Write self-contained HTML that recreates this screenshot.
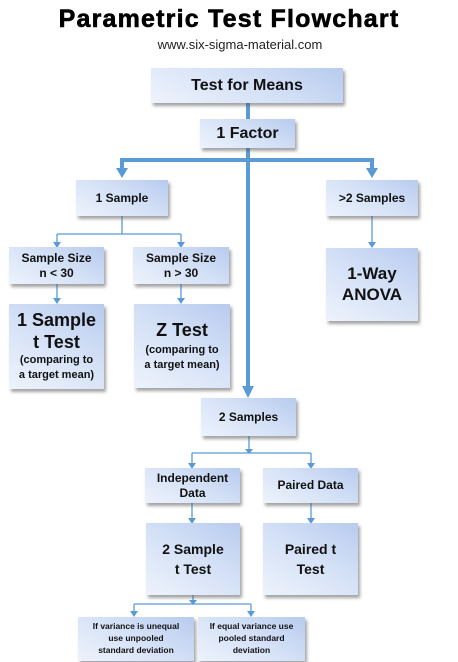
<!DOCTYPE html>
<html><head><meta charset="utf-8"><style>
body{margin:0;width:458px;height:662px;background:#fff;position:relative;overflow:hidden;font-family:"Liberation Sans",sans-serif}
.b{position:absolute;box-sizing:border-box;background:linear-gradient(30deg,#eef3fc 0%,#d3e0f6 55%,#b8cbef 100%);box-shadow:2px 3px 3px rgba(90,90,90,.55);display:flex;align-items:center;justify-content:center;text-align:center;font-weight:bold;color:#111;line-height:1.2}
svg{position:absolute;left:0;top:0}
</style></head><body>
<div style="position:absolute;left:0;width:458px;top:5px;text-align:center;font-weight:900;font-size:25px;letter-spacing:1.2px;-webkit-text-stroke:0.6px #000">Parametric Test Flowchart</div>
<div style="position:absolute;left:0;width:458px;top:37px;text-align:center;font-size:13px;color:#222;padding-left:22px;box-sizing:border-box">www.six-sigma-material.com</div>
<svg width="458" height="662">
<g stroke="#5b9bd5" fill="none">
<line x1="248" y1="103" x2="248" y2="388" stroke-width="4"/>
<line x1="122" y1="160" x2="372" y2="160" stroke-width="4"/>
<line x1="122" y1="158" x2="122" y2="170" stroke-width="4"/>
<line x1="372" y1="158" x2="372" y2="170" stroke-width="4"/>
<g stroke-width="1.3">
<line x1="122" y1="216" x2="122" y2="234"/><line x1="57" y1="234" x2="181" y2="234"/>
<line x1="57" y1="234" x2="57" y2="243"/><line x1="181" y1="234" x2="181" y2="243"/>
<line x1="57" y1="284" x2="57" y2="300"/><line x1="181" y1="284" x2="181" y2="300"/>
<line x1="372" y1="216" x2="372" y2="244"/>
<line x1="249" y1="436" x2="249" y2="450"/>
<line x1="192" y1="453" x2="311" y2="453"/>
<line x1="192" y1="453" x2="192" y2="464"/><line x1="311" y1="453" x2="311" y2="464"/>
<line x1="192" y1="503" x2="192" y2="519"/><line x1="311" y1="503" x2="311" y2="519"/>
<line x1="193" y1="595" x2="193" y2="603"/>
<line x1="134" y1="604" x2="251" y2="604"/>
<line x1="134" y1="604" x2="134" y2="612"/><line x1="251" y1="604" x2="251" y2="612"/>
</g></g>
<g fill="#5b9bd5">
<path d="M116 168h12l-6 10z"/><path d="M366 168h12l-6 10z"/><path d="M242 386h12l-6 12z"/>
<path d="M53 242h8l-4 6z"/><path d="M177 242h8l-4 6z"/>
<path d="M53 298h8l-4 6z"/><path d="M177 298h8l-4 6z"/>
<path d="M368 242h8l-4 6z"/>
<path d="M245 449h8l-4 5z"/>
<path d="M188 463h8l-4 6z"/><path d="M307 463h8l-4 6z"/>
<path d="M188 518h8l-4 6z"/><path d="M307 518h8l-4 6z"/>
<path d="M189 600h8l-4 5z"/>
<path d="M130 611h8l-4 6z"/><path d="M247 611h8l-4 6z"/>
</g>
</svg>
<div class="b" style="left:151px;top:68px;width:192px;height:35px;font-size:16px">Test for Means</div>
<div class="b" style="left:200px;top:119px;width:95px;height:29px;font-size:16px">1 Factor</div>
<div class="b" style="left:76px;top:180px;width:92px;height:36px;font-size:12px">1 Sample</div>
<div class="b" style="left:326px;top:180px;width:92px;height:36px;font-size:12px">&gt;2 Samples</div>
<div class="b" style="left:9px;top:247px;width:95px;height:37px;font-size:12px">Sample Size<br>n &lt; 30</div>
<div class="b" style="left:133px;top:247px;width:96px;height:37px;font-size:12px">Sample Size<br>n &gt; 30</div>
<div class="b" style="left:9px;top:304px;width:95px;height:85px;font-size:11px;flex-direction:column"><span style="font-size:18px;line-height:1.2">1 Sample<br>t Test</span><span style="line-height:1.35">(comparing to<br>a target mean)</span></div>
<div class="b" style="left:134px;top:304px;width:96px;height:84px;font-size:11px;flex-direction:column"><span style="font-size:18px;line-height:1.3">Z Test</span><span style="line-height:1.35">(comparing to<br>a target mean)</span></div>
<div class="b" style="left:326px;top:248px;width:92px;height:73px;font-size:17px">1-Way<br>ANOVA</div>
<div class="b" style="left:201px;top:398px;width:95px;height:38px;font-size:12px">2 Samples</div>
<div class="b" style="left:145px;top:468px;width:95px;height:35px;font-size:12px">Independent<br>Data</div>
<div class="b" style="left:263px;top:468px;width:95px;height:35px;font-size:12px">Paired Data</div>
<div class="b" style="left:146px;top:523px;width:94px;height:72px;font-size:14px;line-height:1.45">2 Sample<br>t Test</div>
<div class="b" style="left:263px;top:523px;width:95px;height:72px;font-size:14px;line-height:1.45">Paired t<br>Test</div>
<div class="b" style="left:78px;top:617px;width:116px;height:44px;font-size:8.5px;line-height:1.4">If variance is unequal<br>use unpooled<br>standard deviation</div>
<div class="b" style="left:198px;top:617px;width:107px;height:44px;font-size:8.5px;line-height:1.4">If equal variance use<br>pooled standard<br>deviation</div>
</body></html>
